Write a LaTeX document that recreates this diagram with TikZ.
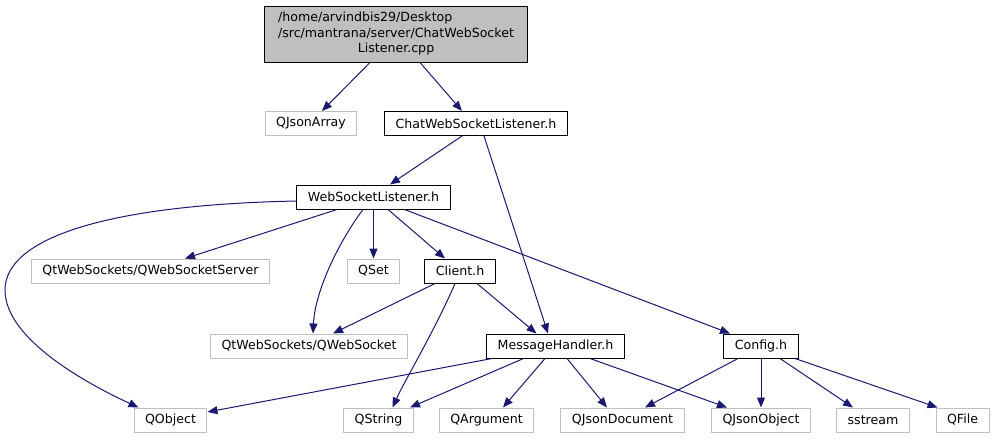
\documentclass[tikz,border=0pt]{standalone}
\usepackage{fontspec}
\setmainfont{DejaVu Sans}
\definecolor{edgeblue}{RGB}{25,25,112}
\definecolor{boxgray}{RGB}{191,191,191}
\usetikzlibrary{arrows.meta}

\begin{document}
\begin{tikzpicture}[
  x=1pt, y=-1pt,
  file/.style={rectangle, draw=black, line width=1pt, font=\fontsize{12.6}{15.5}\selectfont, inner xsep=11pt, inner ysep=0pt, minimum height=24pt},
  extfile/.style={file, draw=boxgray},
  dep/.style={-{Triangle[length=10pt, width=8pt]}, line width=1pt, edgeblue},
]
\useasboundingbox (0,0) rectangle (996,440);

\node[file, fill=boxgray, inner xsep=8pt, minimum width=263pt, minimum height=56pt] (cpp) at (396,34)
  {\begin{tabular}{@{}l@{}}/home/arvindbis29/Desktop\\/src/mantrana/server/ChatWebSocket\\\multicolumn{1}{@{}c@{}}{Listener.cpp}\end{tabular}};
\node[extfile] (jsonarray) at (311,123.5) {QJsonArray};
\node[file] (chatwsl) at (476,123.5) {ChatWebSocketListener.h};
\node[file] (wsl) at (373.5,197) {WebSocketListener.h};
\node[extfile] (wsserver) at (150.5,271) {QtWebSockets/QWebSocketServer};
\node[extfile] (qset) at (373.5,271) {QSet};
\node[file] (client) at (460,271) {Client.h};
\node[extfile] (websocket) at (309,346) {QtWebSockets/QWebSocket};
\node[file] (msghandler) at (555.5,346) {MessageHandler.h};
\node[file] (config) at (761,346) {Config.h};
\node[extfile] (qobject) at (170.5,420) {QObject};
\node[extfile] (qstring) at (378.5,420) {QString};
\node[extfile] (qargument) at (486.5,420) {QArgument};
\node[extfile] (jsondoc) at (622.5,420) {QJsonDocument};
\node[extfile] (jsonobj) at (761,420) {QJsonObject};
\node[extfile] (sstream) at (873,420) {sstream};
\node[extfile] (qfile) at (962.5,420) {QFile};

% top levels
\draw[dep] ([xshift=-26pt]cpp.south) -- ([xshift=11pt]jsonarray.north);
\draw[dep] ([xshift=24pt]cpp.south) -- ([xshift=-14pt]chatwsl.north);
\draw[dep] ([xshift=-14pt]chatwsl.south) -- ([xshift=16.5pt]wsl.north);
\draw[dep] ([xshift=8pt]chatwsl.south) -- ([xshift=-7.5pt]msghandler.north);

% WebSocketListener.h
\draw[dep] ([yshift=-4pt]wsl.west) .. controls (100,205) and (5,240) .. (5,290)
  .. controls (5,340) and (90,385) .. ([xshift=-32pt]qobject.north);
\draw[dep] ([xshift=-36.5pt]wsl.south) -- ([xshift=34.5pt]wsserver.north);
\draw[dep] ([xshift=-10.5pt]wsl.south) .. controls (340,240) and (315,290) .. ([xshift=4pt]websocket.north);
\draw[dep] (wsl.south) -- (qset.north);
\draw[dep] ([xshift=14.5pt]wsl.south) -- ([xshift=-15pt]client.north);
\draw[dep] ([xshift=31pt]wsl.south) -- ([xshift=-31pt]config.north);

% Client.h
\draw[dep] ([xshift=-25pt]client.south) -- ([xshift=24pt]websocket.north);
\draw[dep] ([xshift=-5pt]client.south) .. controls (435,330) and (405,380) .. ([xshift=14pt]qstring.north);
\draw[dep] ([xshift=17pt]client.south) -- ([xshift=-19pt]msghandler.north);

% MessageHandler.h
\draw[dep] ([xshift=-63.5pt]msghandler.south) -- ([yshift=8pt]qobject.east);
\draw[dep] ([xshift=-32pt]msghandler.south) -- ([xshift=31.5pt]qstring.north);
\draw[dep] ([xshift=-10.5pt]msghandler.south) -- ([xshift=16.5pt]qargument.north);
\draw[dep] ([xshift=11.5pt]msghandler.south) -- ([xshift=-15.5pt]jsondoc.north);
\draw[dep] ([xshift=34.5pt]msghandler.south) -- ([xshift=-34pt]jsonobj.north);

% Config.h
\draw[dep] ([xshift=-23pt]config.south) -- ([xshift=22.5pt]jsondoc.north);
\draw[dep] (config.south) -- (jsonobj.north);
\draw[dep] ([xshift=19pt]config.south) -- ([xshift=-20pt]sstream.north);
\draw[dep] ([xshift=34pt]config.south) -- ([xshift=-25pt]qfile.north);
\end{tikzpicture}
\end{document}
